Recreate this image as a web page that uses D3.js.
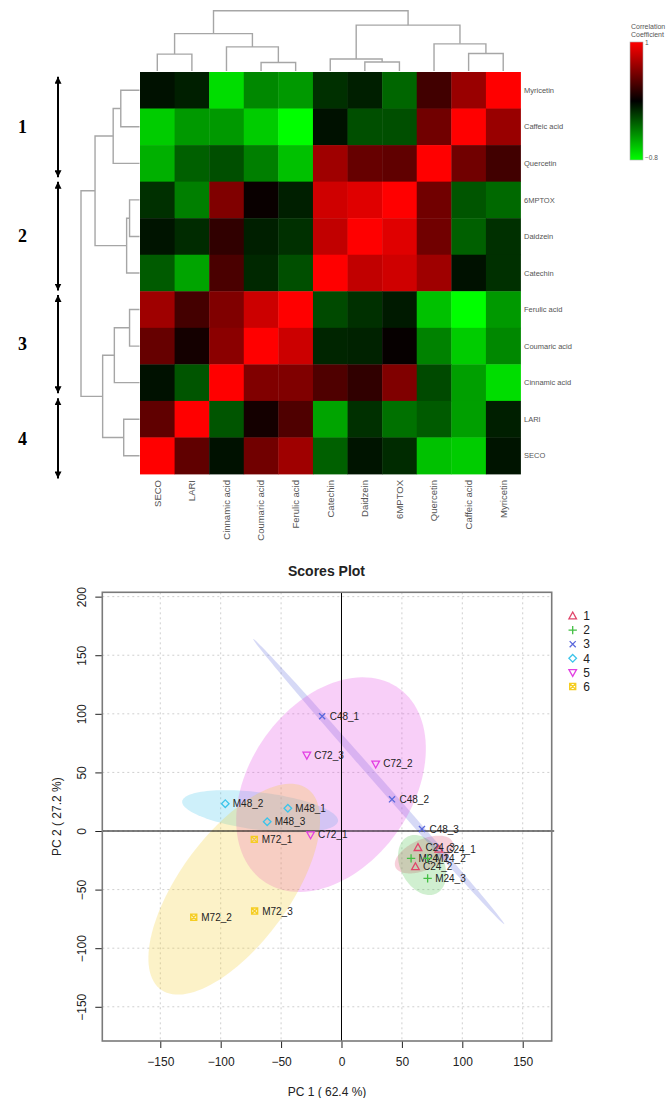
<!DOCTYPE html>
<html>
<head>
<meta charset="utf-8">
<script src="https://cdn.jsdelivr.net/npm/d3@7"></script>
<style>
body { margin: 0; background: #fff; }
text { font-family: "Liberation Sans", Arial, sans-serif; }
</style>
</head>
<body>
<svg width="667" height="1098"></svg>
<script>

// heatmap data
var columns = ["SECO", "LARI", "Cinnamic acid", "Coumaric acid", "Ferulic acid", "Catechin",
               "Daidzein", "6MPTOX", "Quercetin", "Caffeic acid", "Myricetin"];
var rows = ["Myricetin", "Caffeic acid", "Quercetin", "6MPTOX", "Daidzein", "Catechin",
            "Ferulic acid", "Coumaric acid", "Cinnamic acid", "LARI", "SECO"];
var corr = [
    [ 0.04, -0.01, -0.68, -0.38, -0.44, -0.07, -0.01, -0.26,  0.33,  0.64,  1.00],
    [-0.62, -0.44, -0.44, -0.62, -0.80,  0.04, -0.18, -0.18,  0.50,  1.00,  0.64],
    [-0.52, -0.24, -0.18, -0.35, -0.58,  0.66,  0.46,  0.44,  1.00,  0.50,  0.33],
    [-0.07, -0.35,  0.55,  0.13, -0.01,  0.83,  0.89,  1.00,  0.50, -0.20, -0.27],
    [ 0.03, -0.05,  0.27, -0.01, -0.07,  0.78,  1.00,  0.89,  0.50, -0.24, -0.07],
    [-0.22, -0.48,  0.36, -0.04, -0.18,  1.00,  0.78,  0.83,  0.66,  0.04, -0.07],
    [ 0.66,  0.34,  0.55,  0.82,  1.00, -0.16, -0.07,  0.01, -0.58, -0.80, -0.44],
    [ 0.46,  0.17,  0.59,  1.00,  0.82, -0.03, -0.02,  0.12, -0.36, -0.62, -0.38],
    [ 0.04, -0.20,  1.00,  0.55,  0.55,  0.38,  0.27,  0.55, -0.16, -0.46, -0.68],
    [ 0.44,  1.00, -0.20,  0.17,  0.38, -0.48, -0.07, -0.30, -0.22, -0.46, -0.01],
    [ 1.00,  0.44,  0.04,  0.50,  0.66, -0.24,  0.03, -0.05, -0.58, -0.62,  0.03]
];

// dendrograms (hclust style merge: negative = leaf, positive = earlier merge)
var colMerge = [[-1, -2], [-4, -5], [-3, 2], [1, 3], [-7, -8], [-6, 5], [-10, -11], [-9, 7], [6, 8], [4, 9]];
var colHeights = [0.28, 0.14, 0.40, 0.62, 0.15, 0.20, 0.29, 0.45, 0.76, 1.00];
var rowMerge = [[-1, -2], [-3, 1], [-4, -5], [-6, 3], [2, 4], [-7, -8], [-9, 6], [-10, -11], [7, 8], [5, 9]];
var rowHeights = [0.32, 0.45, 0.17, 0.22, 0.76, 0.17, 0.43, 0.27, 0.63, 1.00];

// cluster arrows, in row units
var clusterNames = ["1", "2", "3", "4"];
var clusterFrom = [0.13, 3.0, 6.1, 8.93];
var clusterTo = [2.88, 5.98, 8.79, 11.12];

// scores plot data
var groups = ["1", "2", "3", "4", "5", "6"];
var sampleNames = ["C24_1", "C24_2", "C24_3", "M24_1", "M24_2", "M24_3",
                   "C48_1", "C48_2", "C48_3", "M48_1", "M48_2", "M48_3",
                   "C72_1", "C72_2", "C72_3", "M72_1", "M72_2", "M72_3"];
var sampleGroup = ["1", "1", "1", "2", "2", "2", "3", "3", "3", "4", "4", "4", "5", "5", "5", "6", "6", "6"];
var pc1 = [80.5, 61.2, 63.3, 57.6, 71.3, 71.3, -16.0, 41.8, 66.6, -44.4, -96.2, -61.5, -25.6, 28.3, -28.7, -72.2, -122.3, -71.9];
var pc2 = [-15.6, -30.5, -14.2, -23.3, -23.3, -40.4, 97.9, 27.0, 1.7, 19.4, 23.3, 7.9, -3.2, 57.2, 64.8, -7.1, -73.6, -68.3];
// 95% ellipses: semi axes and angle (degrees)
var ellA = [26, 27, 160, 65, 99.6, 105];
var ellB = [13, 18, 3.2, 16, 68, 46];
var ellAngle = [25, -65, -49.5, -7.5, 57.4, 55];
var xTicks = [-150, -100, -50, 0, 50, 100, 150];
var yTicks = [-150, -100, -50, 0, 50, 100, 150, 200];

var svg = d3.select("svg");

// ---------------- heatmap ----------------
var x = d3.scaleBand().domain(columns).range([140, 520.5]);
var y = d3.scaleBand().domain(rows).range([72, 474]);
var color = d3.scaleLinear().domain([-0.8, 0.1, 1]).range(["#00ff00", "#000000", "#ff0000"]);

var cells = [];
rows.forEach(function(r, i) {
    columns.forEach(function(c, j) {
        cells.push({ row: r, col: c, value: corr[i][j] });
    });
});

svg.append("g").selectAll("rect")
    .data(cells)
    .enter().append("rect")
    .attr("x", function(d) { return x(d.col); })
    .attr("y", function(d) { return y(d.row); })
    .attr("width", x.bandwidth() + 0.4)
    .attr("height", y.bandwidth() + 0.4)
    .attr("fill", function(d) { return color(d.value); });

// row labels
svg.append("g").selectAll("text")
    .data(rows)
    .enter().append("text")
    .attr("x", 524)
    .attr("y", function(d) { return y(d) + y.bandwidth() / 2; })
    .attr("dy", "0.35em")
    .attr("font-size", 7.5)
    .attr("fill", "#555")
    .text(function(d) { return d; });

// column labels
svg.append("g").selectAll("text")
    .data(columns)
    .enter().append("text")
    .attr("transform", function(d) {
        return "translate(" + (x(d) + x.bandwidth() / 2) + ",480) rotate(-90)";
    })
    .attr("dy", "0.35em")
    .attr("text-anchor", "end")
    .attr("font-size", 9.5)
    .attr("fill", "#555")
    .text(function(d) { return d; });

// dendrogram segments from a merge table
function dendroSegments(merge, heights) {
    var pos = [], hgt = [], segs = [];
    function node(k) {
        return k < 0 ? { p: -k - 1, h: 0 } : { p: pos[k - 1], h: hgt[k - 1] };
    }
    merge.forEach(function(m, k) {
        var a = node(m[0]), b = node(m[1]), h = heights[k];
        segs.push([[a.p, a.h], [a.p, h], [b.p, h], [b.p, b.h]]);
        pos.push((a.p + b.p) / 2);
        hgt.push(h);
    });
    return segs;
}

var colIdx = d3.scaleLinear().domain([0, columns.length - 1])
    .range([x(columns[0]) + x.bandwidth() / 2, x(columns[columns.length - 1]) + x.bandwidth() / 2]);
var colH = d3.scaleLinear().domain([0, 1]).range([71, 10.7]);
var rowIdx = d3.scaleLinear().domain([0, rows.length - 1])
    .range([y(rows[0]) + y.bandwidth() / 2, y(rows[rows.length - 1]) + y.bandwidth() / 2]);
var rowH = d3.scaleLinear().domain([0, 1]).range([139.5, 81]);

svg.append("g").selectAll("path")
    .data(dendroSegments(colMerge, colHeights))
    .enter().append("path")
    .attr("d", d3.line().x(function(d) { return colIdx(d[0]); }).y(function(d) { return colH(d[1]); }))
    .attr("fill", "none")
    .attr("stroke", "#a6a6a6")
    .attr("stroke-width", 1.4);

svg.append("g").selectAll("path")
    .data(dendroSegments(rowMerge, rowHeights))
    .enter().append("path")
    .attr("d", d3.line().x(function(d) { return rowH(d[1]); }).y(function(d) { return rowIdx(d[0]); }))
    .attr("fill", "none")
    .attr("stroke", "#a6a6a6")
    .attr("stroke-width", 1.4);

// cluster arrows on the left
var rowUnit = d3.scaleLinear().domain([0, rows.length]).range([72, 474]);
var defs = svg.append("defs");
defs.append("marker")
    .attr("id", "head")
    .attr("viewBox", "0 0 10 10")
    .attr("refX", 10).attr("refY", 5)
    .attr("markerWidth", 7).attr("markerHeight", 7)
    .attr("markerUnits", "userSpaceOnUse")
    .attr("orient", "auto-start-reverse")
    .append("path").attr("d", "M0,0 L10,5 L0,10 Z").attr("fill", "#000");

var arrows = svg.append("g").selectAll("g")
    .data(clusterNames)
    .enter().append("g");

arrows.append("line")
    .attr("x1", 58).attr("x2", 58)
    .attr("y1", function(d, i) { return rowUnit(clusterFrom[i]); })
    .attr("y2", function(d, i) { return rowUnit(clusterTo[i]); })
    .attr("stroke", "#000")
    .attr("stroke-width", 2)
    .attr("marker-start", "url(#head)")
    .attr("marker-end", "url(#head)");

arrows.append("text")
    .attr("x", 22.5)
    .attr("y", function(d, i) { return (rowUnit(clusterFrom[i]) + rowUnit(clusterTo[i])) / 2; })
    .attr("dy", "0.35em")
    .attr("text-anchor", "middle")
    .style("font-family", "'Liberation Serif', 'DejaVu Serif', serif")
    .style("font-weight", "bold")
    .attr("font-size", 18)
    .text(function(d) { return d; });

// colour key
var grad = defs.append("linearGradient")
    .attr("id", "keygrad")
    .attr("x1", 0).attr("y1", 0).attr("x2", 0).attr("y2", 1);
[1, 0.1, -0.8].forEach(function(v) {
    grad.append("stop")
        .attr("offset", (1 - v) / 1.8)
        .attr("stop-color", color(v));
});
svg.append("rect")
    .attr("x", 630).attr("y", 42)
    .attr("width", 13).attr("height", 118)
    .attr("fill", "url(#keygrad)")
    .attr("stroke", "#aaa")
    .attr("stroke-width", 0.6);
svg.append("text").attr("x", 645).attr("y", 45).attr("font-size", 6.5).attr("fill", "#555").text("1");
svg.append("text").attr("x", 645).attr("y", 160).attr("font-size", 6.5).attr("fill", "#555").text("\u22120.8");
svg.append("text").attr("x", 631).attr("y", 29).attr("font-size", 7).attr("fill", "#555").text("Correlation");
svg.append("text").attr("x", 631).attr("y", 37).attr("font-size", 7).attr("fill", "#555").text("Coefficient");

// ---------------- scores plot ----------------
var pL = 102.3, pR = 551.7, pT = 592.3, pB = 1041;
var sx = d3.scaleLinear().domain([-198, 174]).range([pL, pR]);
var sy = d3.scaleLinear().domain([-179.2, 203.7]).range([pB, pT]);
var groupColor = d3.scaleOrdinal().domain(groups)
    .range(["#e0456a", "#43bf43", "#5a68dc", "#3cc4ea", "#e23fe2", "#f5cd22"]);
var groupShape = d3.scaleOrdinal().domain(groups)
    .range(["tri", "plus", "cross", "diamond", "tridown", "squarex"]);

svg.append("text")
    .attr("x", 326.5).attr("y", 576)
    .attr("text-anchor", "middle")
    .attr("font-size", 14)
    .attr("font-weight", "bold")
    .attr("fill", "#222")
    .text("Scores Plot");

defs.append("clipPath").attr("id", "plotclip")
    .append("rect").attr("x", pL).attr("y", pT)
    .attr("width", pR - pL).attr("height", pB - pT);

// grid
var grid = svg.append("g")
    .attr("stroke", "#cfcfcf")
    .attr("stroke-dasharray", "2,3")
    .attr("stroke-width", 1);
grid.selectAll(".gx").data(xTicks).enter().append("line")
    .attr("x1", function(d) { return sx(d); }).attr("x2", function(d) { return sx(d); })
    .attr("y1", pT).attr("y2", pB);
grid.selectAll(".gy").data(yTicks).enter().append("line")
    .attr("y1", function(d) { return sy(d); }).attr("y2", function(d) { return sy(d); })
    .attr("x1", pL).attr("x2", pR);

// ellipses
function ellipsePoints(cx, cy, a, b, deg) {
    var t = deg * Math.PI / 180, pts = [];
    for (var k = 0; k <= 120; k++) {
        var s = 2 * Math.PI * k / 120;
        pts.push([cx + a * Math.cos(s) * Math.cos(t) - b * Math.sin(s) * Math.sin(t),
                  cy + a * Math.cos(s) * Math.sin(t) + b * Math.sin(s) * Math.cos(t)]);
    }
    return pts;
}
var ellLine = d3.line()
    .x(function(d) { return sx(d[0]); })
    .y(function(d) { return sy(d[1]); })
    .curve(d3.curveLinearClosed);

svg.append("g").attr("clip-path", "url(#plotclip)")
    .selectAll("path")
    .data(groups)
    .enter().append("path")
    .attr("d", function(g, i) {
        var idx = d3.range(sampleGroup.length).filter(function(k) { return sampleGroup[k] === g; });
        var cx = d3.mean(idx, function(k) { return pc1[k]; });
        var cy = d3.mean(idx, function(k) { return pc2[k]; });
        return ellLine(ellipsePoints(cx, cy, ellA[i], ellB[i], ellAngle[i]));
    })
    .attr("fill", function(g) { return groupColor(g); })
    .attr("fill-opacity", 0.25)
    .attr("stroke", "none");

// zero lines
svg.append("line")
    .attr("x1", sx(0)).attr("x2", sx(0)).attr("y1", pT).attr("y2", pB)
    .attr("stroke", "#000").attr("stroke-width", 1);
svg.append("line")
    .attr("x1", pL).attr("x2", pR + 2.5).attr("y1", sy(0)).attr("y2", sy(0))
    .attr("stroke", "#000").attr("stroke-width", 1);

// marker shapes
function shapePath(kind) {
    var s = 3.8;
    switch (kind) {
        case "tri": return "M0," + (-s * 1.05) + "L" + s + "," + (s * 0.75) + "L" + (-s) + "," + (s * 0.75) + "Z";
        case "tridown": return "M0," + (s * 1.05) + "L" + s + "," + (-s * 0.75) + "L" + (-s) + "," + (-s * 0.75) + "Z";
        case "plus": return "M" + (-s * 1.1) + ",0H" + (s * 1.1) + "M0," + (-s * 1.1) + "V" + (s * 1.1);
        case "cross": return "M" + (-s * 0.8) + "," + (-s * 0.8) + "L" + (s * 0.8) + "," + (s * 0.8) +
                             "M" + (-s * 0.8) + "," + (s * 0.8) + "L" + (s * 0.8) + "," + (-s * 0.8);
        case "diamond": return "M0," + (-s) + "L" + s + ",0L0," + s + "L" + (-s) + ",0Z";
        default: var q = s * 0.8;
            return "M" + (-q) + "," + (-q) + "H" + q + "V" + q + "H" + (-q) + "Z" +
                   "M" + (-q) + "," + (-q) + "L" + q + "," + q + "M" + (-q) + "," + q + "L" + q + "," + (-q);
    }
}

var pts = svg.append("g").selectAll("g")
    .data(sampleNames)
    .enter().append("g")
    .attr("transform", function(d, i) { return "translate(" + sx(pc1[i]) + "," + sy(pc2[i]) + ")"; });

pts.append("path")
    .attr("d", function(d, i) { return shapePath(groupShape(sampleGroup[i])); })
    .attr("fill", "none")
    .attr("stroke", function(d, i) { return groupColor(sampleGroup[i]); })
    .attr("stroke-width", 1.3);

pts.append("text")
    .attr("x", 7.5)
    .attr("dy", "0.35em")
    .attr("font-size", 10)
    .attr("fill", "#222")
    .text(function(d) { return d; });

// axes
var xAxis = svg.append("g")
    .attr("transform", "translate(0," + pB + ")")
    .call(d3.axisBottom(sx).tickValues(xTicks).tickSize(7).tickPadding(9));
xAxis.select(".domain").remove();
xAxis.selectAll("line").attr("stroke", "#222");
xAxis.selectAll("text").attr("font-size", 12).attr("fill", "#222")
    .style("font-family", "'Liberation Sans', Arial, sans-serif");

var yAxis = svg.append("g")
    .attr("transform", "translate(" + pL + ",0)")
    .call(d3.axisLeft(sy).tickValues(yTicks).tickSize(7));
yAxis.select(".domain").remove();
yAxis.selectAll("line").attr("stroke", "#222");
yAxis.selectAll("text")
    .attr("transform", "rotate(-90)")
    .attr("x", 0).attr("y", -16.5).attr("dy", 0)
    .attr("text-anchor", "middle")
    .attr("font-size", 12).attr("fill", "#222")
    .style("font-family", "'Liberation Sans', Arial, sans-serif");

// plot box
svg.append("rect")
    .attr("x", pL).attr("y", pT)
    .attr("width", pR - pL).attr("height", pB - pT)
    .attr("fill", "none")
    .attr("stroke", "#7a7a7a")
    .attr("stroke-width", 1.6);

svg.append("text")
    .attr("x", (pL + pR) / 2).attr("y", 1096)
    .attr("text-anchor", "middle")
    .attr("font-size", 12).attr("fill", "#222")
    .text("PC 1 ( 62.4 %)");
svg.append("text")
    .attr("transform", "translate(61," + (pT + pB) / 2 + ") rotate(-90)")
    .attr("text-anchor", "middle")
    .attr("font-size", 12).attr("fill", "#222")
    .text("PC 2 ( 27.2 %)");

// legend
var legend = svg.append("g").selectAll("g")
    .data(groups)
    .enter().append("g")
    .attr("transform", function(d, i) { return "translate(572.7," + (616 + i * 14.1) + ")"; });
legend.append("path")
    .attr("d", function(d) { return shapePath(groupShape(d)); })
    .attr("fill", "none")
    .attr("stroke", function(d) { return groupColor(d); })
    .attr("stroke-width", 1.3);
legend.append("text")
    .attr("x", 10.5)
    .attr("dy", "0.35em")
    .attr("font-size", 12)
    .attr("fill", "#222")
    .text(function(d) { return d; });

</script>
</body>
</html>
